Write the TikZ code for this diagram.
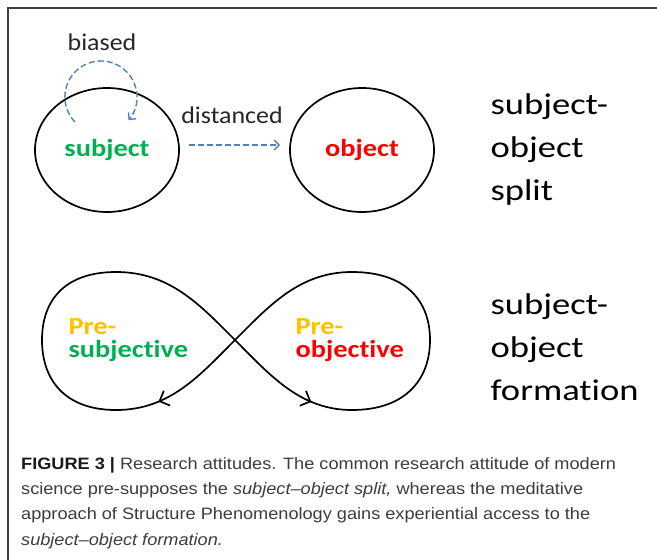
\documentclass[tikz,border=0pt]{standalone}
\usepackage{fontspec}
\setmainfont{Carlito}
\newfontfamily\wordfont{Carlito}[FakeStretch=1.08, Ligatures=NoCommon]
\newfontfamily\innerfont{Carlito}[FakeStretch=1.16, Ligatures=NoCommon]
\newfontfamily\sidefont{Carlito}[FakeStretch=1.22, Ligatures=NoCommon]
\newfontfamily\capfont{Liberation Sans}[FakeStretch=1.1]
\usepackage{tikz}
\usetikzlibrary{arrows.meta}
\usetikzlibrary{shapes.geometric}
\usetikzlibrary{decorations.markings}
\definecolor{subjgreen}{RGB}{0,176,80}
\definecolor{objred}{RGB}{255,0,0}
\definecolor{preyellow}{RGB}{255,192,0}
\definecolor{dashblue}{RGB}{79,129,189}
\definecolor{framegray}{RGB}{64,64,64}
\definecolor{capgray}{RGB}{60,60,60}

\begin{document}
\begin{tikzpicture}[x=1pt, y=-1pt,
		oval/.style={draw, ellipse, line width=1.7pt, inner sep=0pt, minimum width=144pt, minimum height=124pt},
		inner/.style={font=\innerfont\bfseries\fontsize{24.5}{29}\selectfont},
		word/.style={font=\wordfont\fontsize{24}{28}\selectfont, text=black!85},
		side/.style={font=\sidefont\fontsize{30}{43}\selectfont, align=left, anchor=west},
		blueline/.style={draw=dashblue, line width=1.4pt, dash pattern=on 6pt off 3pt},
		loop/.style={line width=1.7pt, postaction={decorate},
			decoration={markings, mark=at position 99pt with {\arrow{Straight Barb[length=8pt,width=16pt,line width=1.7pt]}}}}]
		\useasboundingbox (0,0) rectangle (657,560);
		\draw[framegray, line width=1.5pt] (8,560) -- (8,8) -- (657,8);

		% subject-object split
		\node[oval, inner, text=subjgreen] (subj) at (107,150) {subject};
		\node[oval, inner, text=objred] (obj) at (362,150) {object};
		\node[word] (biased) at (102,42) {biased};
		\node[word] (dist) at (232,115) {distanced};
		\coordinate (biasstart) at (75,122);
		\draw[blueline, -{Straight Barb[length=5pt,width=10pt,line width=1.4pt]}] (biasstart) arc[start angle=136, end angle=400, radius=36];
		\draw[blueline, -{Straight Barb[length=5pt,width=10pt,line width=1.4pt]}, shorten <=9pt, shorten >=9pt] ([yshift=5pt]subj.east) -- ([yshift=5pt]obj.west);
		\node[side] (splitlbl) at (487,149) {subject-\\object\\split};

		% subject-object formation
		\coordinate (cross) at (235,340);
		\draw[loop] (cross) .. controls (270,375) and (300,410) .. (352,410)
			.. controls (405,410) and (430,380) .. (430,340)
			.. controls (430,300) and (405,272) .. (352,272)
			.. controls (300,272) and (270,305) .. (cross);
		\draw[loop] (cross) .. controls (200,375) and (170,410) .. (116,410)
			.. controls (65,410) and (42,380) .. (42,340)
			.. controls (42,300) and (65,272) .. (116,272)
			.. controls (170,272) and (200,305) .. (cross);
		\node[inner, align=left, anchor=west] (presubj) at (65,340) {\textcolor{preyellow}{Pre-}\\[-6pt]\textcolor{subjgreen}{subjective}};
		\node[inner, align=left, anchor=west] (preobj) at (292,340) {\textcolor{preyellow}{Pre-}\\[-6pt]\textcolor{objred}{objective}};
		\node[side] (formlbl) at (487,347) {subject-\\object\\formation};

		% caption
		\node[font=\capfont\fontsize{16.5}{25.3}\selectfont, text=capgray, align=left, anchor=north west, inner sep=0pt] (caption) at (21,457)
			{\textbf{\color{black!90}FIGURE 3 |} Research attitudes. The common research attitude of modern\\
			science pre-supposes the \textit{subject\textendash object split,} whereas the meditative\\
			approach of Structure Phenomenology gains experiential access to the\\
			\textit{subject\textendash object formation.}};
\end{tikzpicture}
\end{document}
